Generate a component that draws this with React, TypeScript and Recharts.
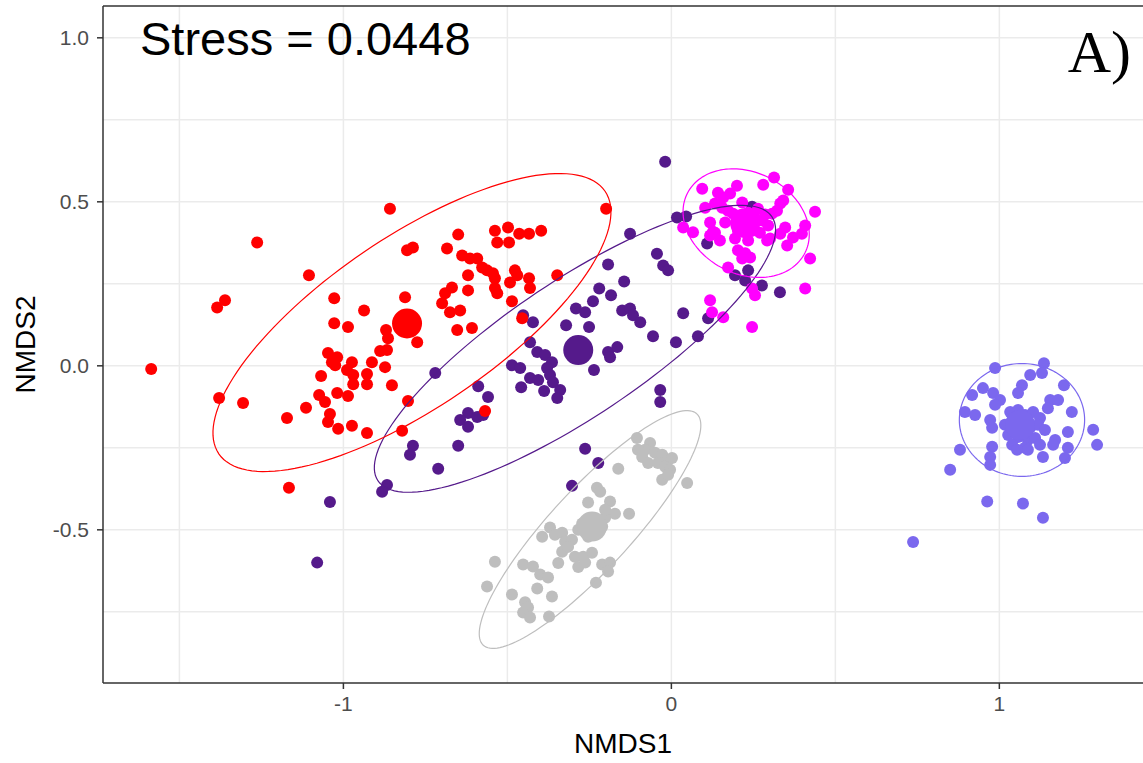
import { ScatterChart, Scatter, XAxis, YAxis, ReferenceLine, Label } from "recharts";

type Pt = [number, number];
type EllipseSpec = { cx: number; cy: number; a: number; b: number; angle: number };

// NMDS site scores
const RED: Pt[] = [
  [-0.858, 0.479], [-1.263, 0.376], [-1.105, 0.276], [-1.385, 0.178], [-1.361, 0.2], [-0.199, 0.479],
  [-0.65, 0.4], [-0.538, 0.412], [-0.498, 0.422], [-0.464, 0.403], [-0.434, 0.403], [-0.397, 0.412],
  [-0.531, 0.376], [-0.495, 0.376], [-0.806, 0.352], [-0.788, 0.361], [-0.684, 0.358], [-0.638, 0.336],
  [-0.614, 0.327], [-0.592, 0.327], [-0.577, 0.3], [-0.562, 0.291], [-0.544, 0.282], [-0.538, 0.267],
  [-0.62, 0.276], [-0.477, 0.291], [-0.47, 0.276], [-0.492, 0.254], [-0.434, 0.267], [-0.431, 0.237],
  [-0.538, 0.237], [-0.531, 0.221], [-0.669, 0.239], [-0.69, 0.221], [-0.699, 0.191], [-0.675, 0.163],
  [-0.644, 0.169], [-0.62, 0.23], [-0.486, 0.197], [-0.455, 0.145], [-0.348, 0.276], [-0.653, 0.109],
  [-0.608, 0.115], [-1.028, 0.206], [-0.812, 0.209], [-0.937, 0.169], [-1.028, 0.13], [-0.986, 0.118],
  [-0.775, 0.072], [-0.87, 0.109], [-0.864, 0.084], [-0.888, 0.045], [-0.867, 0.048], [-1.047, 0.039],
  [-1.019, 0.026], [-1.035, 0.011], [-1.025, 0.002], [-0.974, 0.011], [-0.989, -0.013], [-0.97, -0.028],
  [-0.913, 0.011], [-0.873, -0.004], [-1.068, -0.031], [-0.928, -0.025], [-0.928, -0.056], [-0.97, -0.056],
  [-0.852, -0.059], [-1.019, -0.083], [-0.986, -0.092], [-1.074, -0.089], [-1.056, -0.11], [-1.379, -0.098],
  [-1.306, -0.113], [-0.803, -0.107], [-1.114, -0.128], [-1.172, -0.159], [-1.041, -0.147], [-1.047, -0.171],
  [-1.016, -0.192], [-0.974, -0.183], [-0.928, -0.205], [-0.821, -0.198], [-0.568, -0.138], [-1.586, -0.01],
  [-1.166, -0.372],
];

const PURPLE: Pt[] = [
  [-0.019, 0.622], [-0.126, 0.403], [0.017, 0.452], [0.045, 0.455], [0.109, 0.373], [-0.044, 0.342],
  [-0.025, 0.306], [-0.01, 0.291], [-0.193, 0.309], [-0.144, 0.257], [-0.22, 0.236], [-0.184, 0.215],
  [-0.239, 0.197], [-0.291, 0.175], [-0.263, 0.163], [-0.321, 0.124], [-0.251, 0.118], [-0.15, 0.169],
  [-0.126, 0.175], [-0.117, 0.154], [-0.095, 0.133], [0.036, 0.16], [-0.056, 0.09], [0.014, 0.072],
  [0.081, 0.09], [0.112, 0.145], [-0.452, 0.154], [-0.422, 0.133], [-0.431, 0.072], [-0.409, 0.042],
  [-0.385, 0.033], [-0.364, 0.011], [-0.379, -0.007], [-0.37, -0.028], [-0.361, -0.05], [-0.339, -0.074],
  [-0.348, -0.098], [-0.486, 0.002], [-0.461, -0.007], [-0.431, -0.037], [-0.406, -0.043], [-0.458, -0.065],
  [-0.388, -0.077], [-0.193, 0.042], [-0.165, 0.057], [-0.187, 0.026], [-0.236, -0.013], [-0.72, -0.022],
  [-0.589, -0.062], [-0.559, -0.095], [-0.62, -0.144], [-0.592, -0.156], [-0.574, -0.15], [-0.644, -0.165],
  [-0.62, -0.186], [-0.788, -0.244], [-0.797, -0.271], [-0.65, -0.244], [-0.711, -0.314], [-0.867, -0.363],
  [-0.882, -0.384], [-0.034, -0.074], [-0.034, -0.11], [-0.263, -0.253], [-0.223, -0.296], [-0.303, -0.366],
  [0.194, 0.276], [0.234, 0.291], [0.225, 0.26], [0.276, 0.245], [0.331, 0.224], [0.246, 0.485],
  [-1.041, -0.415], [-1.08, -0.6],
];

const MAGENTA: Pt[] = [
  [0.094, 0.54], [0.2, 0.549], [0.28, 0.552], [0.313, 0.574], [0.356, 0.537], [0.142, 0.528],
  [0.158, 0.513], [0.179, 0.525], [0.103, 0.482], [0.133, 0.495], [0.155, 0.482], [0.216, 0.498],
  [0.332, 0.495], [0.341, 0.504], [0.307, 0.464], [0.322, 0.473], [0.438, 0.47], [0.036, 0.422],
  [0.066, 0.407], [0.118, 0.437], [0.127, 0.409], [0.118, 0.397], [0.148, 0.382], [0.133, 0.406],
  [0.188, 0.464], [0.209, 0.458], [0.234, 0.467], [0.255, 0.449], [0.277, 0.443], [0.295, 0.428],
  [0.225, 0.428], [0.246, 0.412], [0.27, 0.406], [0.203, 0.412], [0.164, 0.437], [0.194, 0.388],
  [0.234, 0.382], [0.301, 0.388], [0.264, 0.479], [0.286, 0.461], [0.173, 0.473], [0.203, 0.352],
  [0.225, 0.343], [0.24, 0.33], [0.216, 0.327], [0.292, 0.382], [0.332, 0.403], [0.347, 0.422],
  [0.353, 0.367], [0.371, 0.391], [0.398, 0.403], [0.408, 0.428], [0.173, 0.3], [0.423, 0.327],
  [0.408, 0.236], [0.246, 0.236], [0.255, 0.215], [0.118, 0.2], [0.124, 0.163], [0.158, 0.148],
  [0.246, 0.118],
];

const GRAY: Pt[] = [
  [-0.105, -0.22], [-0.065, -0.235], [-0.08, -0.256], [-0.05, -0.265], [-0.028, -0.271], [-0.01, -0.287],
  [0.002, -0.281], [-0.102, -0.256], [-0.089, -0.278], [-0.071, -0.296], [-0.041, -0.296], [-0.019, -0.308],
  [-0.004, -0.317], [-0.028, -0.347], [-0.01, -0.332], [0.048, -0.357], [-0.162, -0.314], [-0.227, -0.372],
  [-0.217, -0.384], [-0.187, -0.414], [-0.254, -0.417], [-0.129, -0.451], [-0.172, -0.451], [-0.202, -0.463],
  [-0.242, -0.472], [-0.272, -0.481], [-0.211, -0.49], [-0.233, -0.509], [-0.254, -0.521], [-0.284, -0.5],
  [-0.202, -0.439], [-0.37, -0.493], [-0.355, -0.515], [-0.333, -0.509], [-0.394, -0.521], [-0.324, -0.536],
  [-0.303, -0.53], [-0.333, -0.567], [-0.315, -0.552], [-0.294, -0.582], [-0.269, -0.582], [-0.242, -0.57],
  [-0.345, -0.601], [-0.284, -0.613], [-0.263, -0.6], [-0.211, -0.606], [-0.187, -0.6], [-0.193, -0.627],
  [-0.452, -0.606], [-0.422, -0.612], [-0.538, -0.597], [-0.4, -0.636], [-0.376, -0.645], [-0.409, -0.679],
  [-0.23, -0.661], [-0.562, -0.673], [-0.486, -0.697], [-0.364, -0.703], [-0.446, -0.721], [-0.437, -0.737],
  [-0.452, -0.752], [-0.431, -0.767], [-0.373, -0.764],
];

const LAVENDER: Pt[] = [
  [0.987, -0.007], [1.136, 0.008], [1.13, -0.022], [1.094, -0.028], [1.069, -0.059], [1.057, -0.083],
  [1.197, -0.059], [0.95, -0.068], [0.917, -0.089], [0.981, -0.083], [1.002, -0.104], [0.987, -0.119],
  [0.895, -0.141], [0.926, -0.15], [1.155, -0.104], [1.179, -0.104], [1.148, -0.129], [1.221, -0.141],
  [0.972, -0.165], [0.978, -0.189], [1.033, -0.141], [1.057, -0.135], [1.078, -0.15], [1.103, -0.141],
  [1.124, -0.159], [1.017, -0.18], [1.048, -0.171], [1.069, -0.18], [1.094, -0.189], [1.118, -0.18],
  [1.139, -0.196], [1.027, -0.211], [1.057, -0.217], [1.087, -0.226], [1.109, -0.22], [1.039, -0.241],
  [1.078, -0.25], [1.124, -0.241], [1.209, -0.202], [1.17, -0.226], [1.164, -0.241], [1.286, -0.195],
  [1.298, -0.241], [0.88, -0.256], [0.978, -0.247], [0.972, -0.278], [1.054, -0.256], [1.087, -0.256],
  [1.133, -0.278], [1.209, -0.25], [1.2, -0.281], [0.972, -0.302], [0.85, -0.317], [0.963, -0.414],
  [1.072, -0.42], [1.133, -0.463], [0.737, -0.537],
];

// group centroids (drawn as large points)
const CENTROID_RED: Pt = [-0.806, 0.129];
const CENTROID_PURPLE: Pt = [-0.284, 0.048];
const CENTROID_MAGENTA: Pt = [0.225, 0.435];
const CENTROID_GRAY: Pt = [-0.242, -0.49];
const CENTROID_LAVENDER: Pt = [1.063, -0.18];

// 95% ellipses: centre, semi-axes, rotation (degrees)
const ELLIPSE_RED: EllipseSpec = { cx: -0.791, cy: 0.132, a: 0.712, b: 0.26, angle: 34.2 };
const ELLIPSE_PURPLE: EllipseSpec = { cx: -0.294, cy: 0.052, a: 0.723, b: 0.207, angle: 33.8 };
const ELLIPSE_GRAY: EllipseSpec = { cx: -0.248, cy: -0.499, a: 0.48, b: 0.123, angle: 47.3 };
const ELLIPSE_MAGENTA: EllipseSpec = { cx: 0.228, cy: 0.435, a: 0.201, b: 0.155, angle: -27 };
const ELLIPSE_LAVENDER: EllipseSpec = { cx: 1.069, cy: -0.165, a: 0.191, b: 0.172, angle: 0 };

const X_DOMAIN: [number, number] = [-1.733, 1.438];
const Y_DOMAIN: [number, number] = [-0.967, 1.097];
const X_TICKS = [-1, 0, 1];
const Y_TICKS = [-0.5, 0, 0.5, 1];
const X_GRID = [-1.5, -1, -0.5, 0, 0.5, 1];
const Y_GRID = [-0.75, -0.5, -0.25, 0, 0.25, 0.5, 0.75, 1];

const GROUPS = [
  { name: "gray", color: "#BEBEBE", points: GRAY, centroid: CENTROID_GRAY, ellipse: ELLIPSE_GRAY },
  { name: "purple", color: "#551A8B", points: PURPLE, centroid: CENTROID_PURPLE, ellipse: ELLIPSE_PURPLE },
  { name: "lavender", color: "#7B68EE", points: LAVENDER, centroid: CENTROID_LAVENDER, ellipse: ELLIPSE_LAVENDER },
  { name: "magenta", color: "#FF00FF", points: MAGENTA, centroid: CENTROID_MAGENTA, ellipse: ELLIPSE_MAGENTA },
  { name: "red", color: "#FF0000", points: RED, centroid: CENTROID_RED, ellipse: ELLIPSE_RED },
];

const toXY = (pts: Pt[]) => pts.map(([x, y]) => ({ x, y }));

function ellipseOutline(e: EllipseSpec) {
  const out: { x: number; y: number }[] = [];
  const t = (e.angle * Math.PI) / 180;
  for (let i = 0; i <= 144; i++) {
    const p = (i / 144) * 2 * Math.PI;
    const u = e.a * Math.cos(p);
    const v = e.b * Math.sin(p);
    out.push({ x: e.cx + u * Math.cos(t) - v * Math.sin(t), y: e.cy + u * Math.sin(t) + v * Math.cos(t) });
  }
  return out;
}

const dot = (r: number, fill: string) => (p: any) => <circle cx={p.cx} cy={p.cy} r={r} fill={fill} />;
const noDot = () => <g />;

const SANS = "'Liberation Sans', Arial, sans-serif";

export default function App() {
  return (
    <div style={{ position: "absolute", left: 0, top: 0, width: 1143, height: 763, background: "#fff", fontFamily: SANS }}>
      <ScatterChart width={1143} height={763} margin={{ top: 6, right: 0, bottom: 0, left: 0 }}>
        {X_GRID.map((v) => (
          <ReferenceLine key={"gx" + v} x={v} stroke="#EBEBEB" strokeWidth={1.5} />
        ))}
        {Y_GRID.map((v) => (
          <ReferenceLine key={"gy" + v} y={v} stroke="#EBEBEB" strokeWidth={1.5} />
        ))}
        <ReferenceLine y={Y_DOMAIN[1]} stroke="#333333" strokeWidth={1.5} />
        <XAxis
          type="number"
          dataKey="x"
          domain={X_DOMAIN}
          allowDataOverflow
          ticks={X_TICKS}
          tickFormatter={(v: number) => String(v)}
          height={80}
          tickSize={6}
          tickMargin={7}
          axisLine={{ stroke: "#333333", strokeWidth: 1.5 }}
          tickLine={{ stroke: "#333333", strokeWidth: 1.5 }}
          tick={{ fill: "#4D4D4D", fontSize: 21, fontFamily: SANS }}
        >
          <Label value="NMDS1" position="insideBottom" offset={10} fill="#000" fontSize={28} fontFamily={SANS} />
        </XAxis>
        <YAxis
          type="number"
          dataKey="y"
          domain={Y_DOMAIN}
          allowDataOverflow
          ticks={Y_TICKS}
          tickFormatter={(v: number) => v.toFixed(1)}
          width={103}
          tickSize={6}
          tickMargin={8}
          axisLine={{ stroke: "#333333", strokeWidth: 1.5 }}
          tickLine={{ stroke: "#333333", strokeWidth: 1.5 }}
          tick={{ fill: "#4D4D4D", fontSize: 21, fontFamily: SANS }}
        >
          <Label
            value="NMDS2"
            angle={-90}
            position="insideLeft"
            offset={25}
            fill="#000"
            fontSize={28}
            fontFamily={SANS}
            style={{ textAnchor: "middle" }}
          />
        </YAxis>
        {GROUPS.map((g) => (
          <Scatter
            key={"pts-" + g.name}
            data={toXY(g.points)}
            shape={dot(6, g.color)}
            isAnimationActive={false}
          />
        ))}
        {GROUPS.map((g) => (
          <Scatter
            key={"cen-" + g.name}
            data={toXY([g.centroid])}
            shape={dot(15, g.color)}
            isAnimationActive={false}
          />
        ))}
        {GROUPS.map((g) => (
          <Scatter
            key={"ell-" + g.name}
            data={ellipseOutline(g.ellipse)}
            shape={noDot}
            line={{ stroke: g.color, strokeWidth: 1.2, fill: "none" }}
            lineJointType="linear"
            isAnimationActive={false}
          />
        ))}
      </ScatterChart>
      <svg width={1143} height={763} style={{ position: "absolute", left: 0, top: 0, pointerEvents: "none" }}>
        <text x={140} y={55} fontFamily={SANS} fontSize={47} fill="#000">
          Stress = 0.0448
        </text>
        <text x={1131} y={72} textAnchor="end" fontFamily="'Liberation Serif', 'Times New Roman', serif" fontSize={60} fill="#000">
          A)
        </text>
      </svg>
    </div>
  );
}
